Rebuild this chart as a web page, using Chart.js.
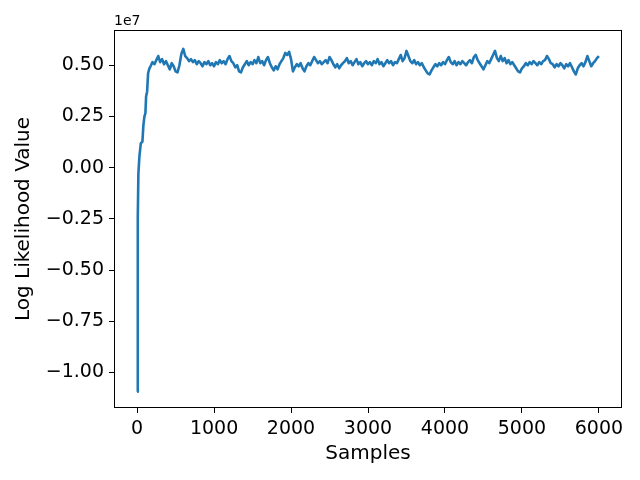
<!DOCTYPE html>
<html>
<head>
<meta charset="utf-8">
<script src="https://cdn.jsdelivr.net/npm/chart.js@4/dist/chart.umd.min.js"></script>
<style>
  html, body { margin: 0; padding: 0; background: #ffffff; }
  #wrap { width: 640px; height: 480px; }
</style>
</head>
<body>
<div id="wrap"><canvas id="chart" width="640" height="480"></canvas></div>
<script>
// values are in millions (x1e6) to keep the lists short
const SCALE = 1e6;

// burn-in: the steep climb at the very start of the chain
const warmupSamples = [0, 9, 17, 30, 48, 69, 82, 95, 108, 117, 130, 143, 160];
const warmupValues = [-10.94, -2.39, -0.27, 0.54, 1.19, 1.27, 2.08, 2.49, 2.66, 3.47, 3.71, 4.61, 4.85];

// after burn-in, one reading every 25 samples from 175 to 6000
const plateauStart = 175;
const plateauStep = 25;
const plateauValues = [
  4.95, 5.15, 5.05, 5.25, 5.45, 5.15, 5.3, 5.05, 5.2, 5.0,
  4.8, 5.1, 4.95, 4.7, 4.65, 5.0, 5.55, 5.8, 5.45, 5.35,
  5.2, 5.3, 5.15, 5.25, 5.05, 5.2, 5.1, 4.95, 5.15, 5.05,
  5.2, 5.0, 5.1, 4.95, 5.15, 5.05, 5.25, 5.1, 5.2, 5.05,
  5.3, 5.45, 5.2, 5.1, 4.9, 5.0, 4.7, 4.65, 4.9, 5.05,
  5.2, 5.0, 5.15, 5.05, 5.25, 5.1, 5.4, 5.1, 5.2, 5.0,
  5.25, 5.4, 5.1, 4.9, 4.75, 4.95, 4.8, 5.05, 5.2, 5.35,
  5.6, 5.5, 5.65, 5.3, 4.7, 4.9, 5.05, 4.95, 5.1, 4.85,
  4.7, 4.95, 5.1, 5.0, 5.2, 5.4, 5.25, 5.1, 5.2, 5.05,
  5.15, 5.25, 5.1, 5.4, 5.25, 5.05, 4.9, 5.05, 4.85, 5.0,
  5.1, 5.2, 5.35, 5.1, 5.2, 5.0, 5.15, 5.3, 5.05, 5.15,
  4.95, 5.1, 5.2, 5.05, 5.15, 5.0, 5.2, 5.1, 5.3, 5.05,
  5.15, 4.95, 5.1, 5.25, 5.1, 5.2, 5.0, 5.15, 5.1, 5.3,
  5.5, 5.2, 5.35, 5.7, 5.45, 5.2, 5.1, 5.25, 5.05, 5.15,
  5.0, 5.1, 4.9, 4.75, 4.6, 4.55, 4.75, 4.9, 5.05, 4.95,
  5.1, 5.0, 5.15, 5.05, 5.25, 5.4, 5.15, 5.05, 5.2, 5.0,
  5.15, 5.05, 5.2, 5.1, 5.0, 5.15, 5.25, 5.1, 5.4, 5.5,
  5.25, 5.1, 4.95, 4.8, 5.0, 5.2, 5.1, 5.3, 5.5, 5.7,
  5.35, 5.2, 5.45, 5.2, 5.35, 5.1, 5.25, 5.05, 5.15, 5.0,
  4.85, 4.7, 4.65, 4.85, 4.95, 5.1, 5.0, 5.15, 5.05, 5.2,
  5.1, 5.0, 5.15, 5.05, 5.2, 5.25, 5.45, 5.3, 5.1, 5.05,
  4.9, 5.05, 4.95, 5.1, 5.0, 4.85, 5.05, 4.95, 5.1, 4.9,
  4.7, 4.55, 4.85, 5.0, 5.1, 4.95, 5.15, 5.45, 5.2, 4.95,
  5.1, 5.2, 5.35, 5.45
];

const xTicks = [0, 1000, 2000, 3000, 4000, 5000, 6000];
const yTicks = [-1.0e7, -0.75e7, -0.5e7, -0.25e7, 0, 0.25e7, 0.5e7];

const FONT = "'DejaVu Sans', sans-serif";
const LINE_COLOR = '#1f77b4';

// build the {x, y} series from the lists above
const points = [];
warmupSamples.forEach((s, i) => points.push({ x: s, y: warmupValues[i] * SCALE }));
plateauValues.forEach((v, i) => points.push({ x: plateauStart + i * plateauStep, y: v * SCALE }));

// matplotlib-style frame on all four sides plus the offset label
const framePlugin = {
  id: 'frame',
  afterDraw(chart) {
    const { ctx, chartArea: a } = chart;
    ctx.save();
    ctx.strokeStyle = '#000000';
    ctx.lineWidth = 1;
    ctx.strokeRect(a.left + 0.5, a.top + 0.5, a.right - a.left - 1, a.bottom - a.top - 1);
    ctx.fillStyle = '#000000';
    ctx.font = '14px ' + FONT;
    ctx.textAlign = 'left';
    ctx.textBaseline = 'bottom';
    ctx.fillText('1e7', a.left, a.top - 2);
    ctx.restore();
  }
};

const fmtY = (v) => (v / 1e7).toFixed(2).replace('-', '\u2212');

new Chart(document.getElementById('chart').getContext('2d'), {
  type: 'line',
  data: {
    datasets: [{
      data: points,
      borderColor: LINE_COLOR,
      borderWidth: 2.6,
      borderJoinStyle: 'round',
      pointRadius: 0,
      tension: 0,
      fill: false
    }]
  },
  options: {
    responsive: false,
    animation: false,
    layout: { padding: { left: 0, right: 18, top: 30, bottom: 0 } },
    plugins: {
      legend: { display: false },
      tooltip: { enabled: false }
    },
    scales: {
      x: {
        type: 'linear',
        min: -300,
        max: 6300,
        afterBuildTicks: (scale) => { scale.ticks = xTicks.map(v => ({ value: v })); },
        afterFit: (scale) => { scale.height = 72; },
        grid: { drawOnChartArea: false, tickLength: 5, color: '#000000', tickColor: '#000000' },
        border: { display: false },
        ticks: {
          color: '#000000',
          font: { family: FONT, size: 19 },
          padding: 5,
          maxRotation: 0,
          callback: (v) => String(v)
        },
        title: {
          display: true,
          text: 'Samples',
          color: '#000000',
          font: { family: FONT, size: 20 },
          padding: { top: 0, bottom: 14 }
        }
      },
      y: {
        type: 'linear',
        min: -1.173e7,
        max: 0.672e7,
        afterBuildTicks: (scale) => { scale.ticks = yTicks.map(v => ({ value: v })); },
        afterFit: (scale) => { scale.width = 114; },
        grid: { drawOnChartArea: false, tickLength: 5, color: '#000000', tickColor: '#000000' },
        border: { display: false },
        ticks: {
          color: '#000000',
          font: { family: FONT, size: 19 },
          padding: 5,
          callback: (v) => fmtY(v)
        },
        title: {
          display: true,
          text: 'Log Likelihood Value',
          color: '#000000',
          font: { family: FONT, size: 20 },
          padding: { top: 12, bottom: 0 }
        }
      }
    }
  },
  plugins: [framePlugin]
});
</script>
</body>
</html>
